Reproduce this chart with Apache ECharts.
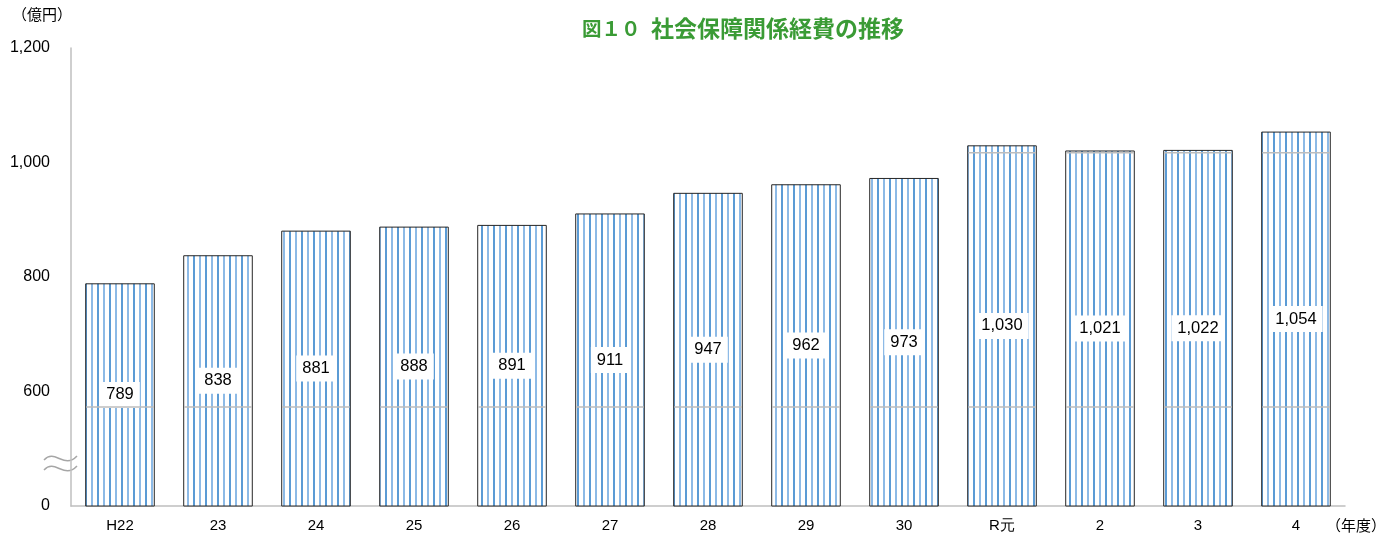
<!DOCTYPE html>
<html>
<head>
<meta charset="utf-8">
<script src="https://cdn.jsdelivr.net/npm/echarts@6/dist/echarts.min.js"></script>
<style>html,body{margin:0;padding:0;background:#fff}#c{width:1393px;height:540px}</style>
</head>
<body>
<div id="c"></div>
<script>
const categories = ['H22','23','24','25','26','27','28','29','30','R元','2','3','4'];
const values = [789, 838, 881, 888, 891, 911, 947, 962, 973, 1030, 1021, 1022, 1054];
const yTicks = [400, 600, 800, 1000, 1200];
const yTickLabels = ['0', '600', '800', '1,000', '1,200'];
const breakLines = [573, 1017];

// stripe pattern
const pc = document.createElement('canvas');
pc.width = 12; pc.height = 10;
const px = pc.getContext('2d');
px.fillStyle = '#ffffff'; px.fillRect(0,0,12,10);
px.fillStyle = '#5b9bd5'; px.fillRect(1,0,2,10);
px.fillStyle = '#8dbae6'; px.fillRect(7,0,2,10);

const chart = echarts.init(document.getElementById('c'));
const font = '"Liberation Sans", Arial, sans-serif';
const jp = '"Noto Sans CJK JP", sans-serif';
chart.setOption({
  animation: false,
  grid: { left: 71, right: 48, top: 48, bottom: 34 },
  xAxis: {
    type: 'category', data: categories,
    axisLine: { lineStyle: { color: '#bfbfbf', width: 1.5 } },
    axisTick: { show: false },
    axisLabel: { color: '#000', fontSize: 15, fontFamily: font, margin: 12 }
  },
  yAxis: {
    type: 'value', min: 400, max: 1200, interval: 200,
    axisLine: { show: true, lineStyle: { color: '#bfbfbf', width: 1.5 } },
    axisTick: { show: false },
    splitLine: { show: false },
    axisLabel: {
      color: '#000', fontSize: 16, fontFamily: font, margin: 21,
      formatter: v => yTickLabels[yTicks.indexOf(v)]
    }
  },
  series: [{
    type: 'bar', data: values, barWidth: '71%',
    itemStyle: { color: { image: pc, repeat: 'repeat' }, borderColor: '#262626', borderWidth: 1 },
    label: {
      show: true, position: 'inside', backgroundColor: '#fff', padding: [5, 6, 4, 6],
      color: '#000', fontSize: 16.5, fontFamily: font,
      formatter: p => p.value.toLocaleString('en-US')
    }
  }, {
    type: 'custom', z: 3,
    data: values.map((v, i) => [i, v]),
    renderItem: (params, api) => {
      const i = api.value(0), v = api.value(1);
      const w = api.size([1, 0])[0] * 0.71;
      const children = [];
      breakLines.forEach(b => {
        if (v > b) {
          const p = api.coord([i, b]);
          children.push({ type: 'line', shape: { x1: p[0] - w / 2 + 1, y1: p[1], x2: p[0] + w / 2 - 1, y2: p[1] },
            style: { stroke: '#bdbdbd', lineWidth: 1.5 } });
        }
      });
      return { type: 'group', children };
    }
  }],
  graphic: [
    { type: 'text', left: 12, top: 7, style: { text: '（億円）', fontSize: 15, fill: '#000', fontFamily: jp } },
    { type: 'text', left: 1326, top: 518, style: { text: '（年度）', fontSize: 15, fill: '#000', fontFamily: jp } },
    { type: 'text', left: 582, top: 19, style: { text: '図１０', fontSize: 19.5, fontWeight: 'bold', fill: '#3a9b35', fontFamily: jp } },
    { type: 'text', left: 651, top: 17, style: { text: '社会保障関係経費の推移', fontSize: 23, fontWeight: 'bold', fill: '#3a9b35', fontFamily: jp } },
    { type: 'bezierCurve', shape: { x1: 44, y1: 460, cpx1: 55, cpy1: 448, cpx2: 64, cpy2: 470, x2: 77, y2: 456 }, style: { stroke: '#a6a6a6', lineWidth: 1.5, fill: null } },
    { type: 'bezierCurve', shape: { x1: 44, y1: 470, cpx1: 55, cpy1: 458, cpx2: 64, cpy2: 480, x2: 77, y2: 466 }, style: { stroke: '#a6a6a6', lineWidth: 1.5, fill: null } }
  ]
});
</script>
</body>
</html>
